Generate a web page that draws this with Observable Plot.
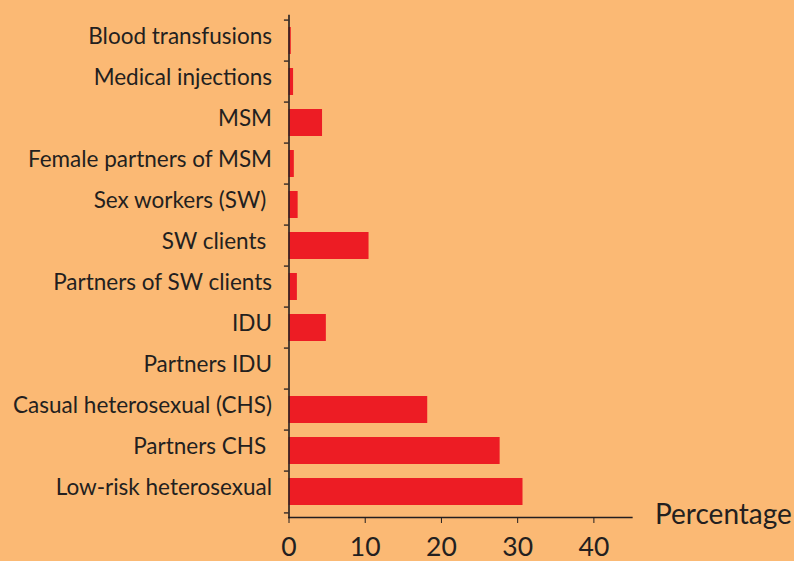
<!DOCTYPE html>
<html>
<head>
<meta charset="utf-8">
<script src="https://cdn.jsdelivr.net/npm/d3@7"></script>
<script src="https://cdn.jsdelivr.net/npm/@observablehq/plot@0.6"></script>
<style>
  html, body { margin: 0; padding: 0; background: #FBB974; }
  #chart svg { display: block; }
</style>
</head>
<body>
<div id="chart"></div>
<script>
const categories = [
  "Blood transfusions",
  "Medical injections",
  "MSM",
  "Female partners of MSM",
  "Sex workers (SW)\u00a0",
  "SW clients\u00a0",
  "Partners of SW clients",
  "IDU",
  "Partners IDU",
  "Casual heterosexual (CHS)",
  "Partners CHS\u00a0",
  "Low-risk heterosexual"
];
const values = [0.3, 0.6, 4.4, 0.7, 1.2, 10.5, 1.1, 4.9, 0, 18.2, 27.7, 30.7];
const xTicks = [0, 10, 20, 30, 40];
const xLabel = "Percentage";

const data = categories.map((c, i) => ({category: c, value: values[i]}));

const W = 794, H = 561;
const mTop = 15, mBottom = 44, mLeft = 288.5, mRight = 162.5;
const step = (H - mTop - mBottom) / categories.length;
const ink = "#231F20";
const font = "Lato, 'Open Sans', sans-serif";

const chart = Plot.plot({
  width: W,
  height: H,
  marginTop: mTop,
  marginBottom: mBottom,
  marginLeft: mLeft,
  marginRight: mRight,
  style: {background: "#FBB974", color: ink, fontFamily: font},
  x: {domain: [0, 45]},
  y: {domain: categories, paddingInner: 0.35, paddingOuter: 0.175},
  marks: [
    Plot.barX(data, {x: "value", y: "category", fill: "#ED1C24"}),
    Plot.axisY({tickSize: 0, tickPadding: 17, dy: -4, fontSize: 22.5, label: null, fill: ink}),
    Plot.ruleY(categories, {y: d => d, x1: -0.6, x2: 0, dy: -step / 2, stroke: ink, strokeWidth: 1.3}),
    Plot.ruleY([categories[categories.length - 1]], {y: d => d, x1: -0.6, x2: 0, dy: step / 2, stroke: ink, strokeWidth: 1.3}),
    Plot.frame({anchor: "left", stroke: ink, strokeWidth: 1.6}),
    Plot.frame({anchor: "bottom", stroke: ink, strokeWidth: 1.3}),
    Plot.axisX({ticks: xTicks, tickFormat: d => d, tickSize: 6, tickPadding: 13.5, fontSize: 26.5, label: null, fill: ink, stroke: ink}),
    Plot.text([xLabel], {frameAnchor: "bottom-right", dx: 23, dy: 6, textAnchor: "start", fontSize: 28, fill: ink})
  ]
});
document.getElementById("chart").appendChild(chart);
</script>
</body>
</html>
